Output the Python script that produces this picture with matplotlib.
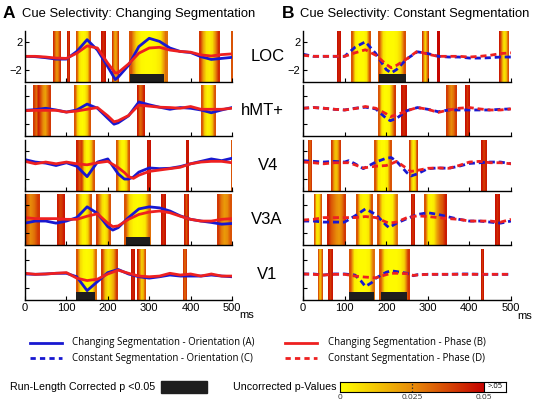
import numpy as np
import matplotlib
matplotlib.use('Agg')
import matplotlib.pyplot as plt
from matplotlib.colors import LinearSegmentedColormap

plt.rcParams['font.family'] = ['Liberation Sans', 'DejaVu Sans']

W, H = 537, 403
regions = ['LOC', 'hMT+', 'V4', 'V3A', 'V1']

# ---------------- Panel A : changing segmentation (solid) ----------------
A_LOC_t = [0, 25, 50, 75, 100, 125, 150, 175, 200, 218, 225, 250, 275, 300, 325, 350, 375, 400, 425, 450, 475, 500]
A_LOC_orient = [0, -0.05, -0.2, -0.4, -0.4, 0.7, 2.4, 0.9, -1.5, -3.35, -3.0, -1.3, 1.4, 2.6, 2.15, 1.2, 0.7, 0.55, -0.05, -0.45, -0.3, -0.15]
A_LOC_phase = [0, 0, -0.1, -0.25, -0.3, 0.45, 1.5, 1.2, -1.0, -2.4, -2.35, -1.1, 0.45, 1.2, 1.3, 0.9, 0.7, 0.6, 0.2, 0.05, 0.25, 0.35]

A_hMT_t = [0, 25, 50, 75, 100, 125, 150, 175, 200, 215, 225, 250, 275, 300, 325, 350, 375, 400, 425, 450, 475, 500]
A_hMT_orient = [0, 0.1, 0.3, 0.05, -0.25, 0.05, 0.9, 0.3, -1.15, -2.0, -1.8, -0.8, 1.2, 0.8, 0.45, 0.15, 0.4, 0.3, 0.05, -0.35, 0.05, 0.4]
A_hMT_phase = [-0.05, 0, 0, 0, -0.25, -0.1, 0.15, 0.4, -0.8, -1.65, -1.5, -0.75, 0.75, 0.6, 0.45, 0.4, 0.3, 0.55, 0.15, 0.15, 0.15, 0.3]

A_V4_t = [0, 25, 50, 75, 100, 125, 150, 175, 200, 225, 240, 250, 262, 275, 300, 325, 350, 375, 400, 425, 450, 475, 500]
A_V4_orient = [0.75, 0.4, 0.25, -0.1, 0.3, -0.2, -1.7, 0.4, 0.85, -1.3, -2.05, -2.05, -1.75, -1.05, -0.45, -0.55, -0.5, -0.25, 0.15, 0.5, 0.85, 0.6, 0.95]
A_V4_phase = [0.5, 0.15, 0.4, 0.15, 0.4, 0.15, 0, 0.3, 0.5, -0.4, -1.1, -1.7, -1.95, -1.5, -0.95, -0.75, -0.55, -0.35, 0.15, 0.4, 0.5, 0.5, 0.3]

A_V3A_t = [0, 25, 50, 75, 100, 125, 150, 175, 200, 212, 225, 250, 275, 300, 325, 350, 375, 400, 425, 450, 475, 500]
A_V3A_orient = [-0.55, -0.25, -0.25, -0.55, -0.25, 0.25, 1.8, 0.85, -1.05, -1.55, -1.2, 0.25, 1.5, 1.8, 1.65, 1.2, 0.5, 0, -0.25, -0.45, -0.7, -0.6]
A_V3A_phase = [0.25, 0.1, 0.1, 0.1, 0, 0, 0.45, 0.8, -0.55, -1.05, -0.95, 0, 0.7, 1.05, 1.2, 0.95, 0.45, 0, -0.25, -0.25, 0, 0.1]

A_V1_t = [0, 25, 50, 75, 100, 125, 150, 175, 200, 225, 250, 275, 300, 325, 350, 375, 400, 425, 450, 475, 500]
A_V1_orient = [0.05, 0, 0.05, 0.15, 0.15, -0.35, -2.35, -1.05, 0.25, 0.7, 0.05, -0.35, -0.55, -0.35, -0.1, -0.25, -0.25, -0.25, -0.1, -0.25, -0.35]
A_V1_phase = [0.15, 0, 0.05, 0.15, 0.25, -0.55, -0.9, -0.7, 0.05, 0.6, 0.15, -0.25, -0.35, -0.25, 0.15, -0.1, 0.05, -0.25, 0.05, -0.25, -0.25]

# ---------------- Panel B : constant segmentation (dashed) ----------------
B_LOC_t = [0, 25, 50, 75, 100, 125, 150, 175, 200, 212, 225, 250, 275, 300, 325, 350, 375, 400, 425, 450, 475, 500]
B_LOC_orient = [0.3, 0, 0, 0, 0, 1.3, 2.1, 0.4, -1.9, -2.4, -1.9, -0.35, 0.65, 0.4, 0, -0.1, -0.1, -0.25, -0.25, -0.2, -0.1, -0.1]
B_LOC_phase = [0.15, 0, 0, 0, 0, 0.5, 0.95, 0.15, -1.15, -1.65, -1.3, -0.35, 0.75, 0.3, 0, 0, 0, -0.1, 0, 0.15, 0.4, 0.5]

B_hMT_t = [0, 25, 50, 75, 100, 125, 150, 175, 200, 210, 225, 250, 275, 300, 325, 350, 375, 400, 425, 450, 475, 500]
B_hMT_orient = [0.3, 0.4, 0.3, 0.15, 0.05, 0.3, 0.45, 0.2, -1.15, -1.5, -1.15, -0.05, 0.4, 0.15, -0.2, 0.05, 0.05, 0.05, 0.05, 0.05, 0.15, 0.2]
B_hMT_phase = [0.3, 0.4, 0.3, 0.15, 0.05, 0.25, 0.55, 0.3, -0.5, -0.9, -0.65, -0.05, 0.4, 0.15, -0.3, 0.05, 0.3, 0.4, 0.2, 0.05, 0.05, 0.2]

B_V4_t = [0, 25, 50, 75, 100, 110, 125, 145, 175, 200, 212, 225, 250, 260, 275, 300, 325, 350, 375, 400, 425, 450, 475, 500]
B_V4_orient = [0.6, 0.5, 0.4, 0.5, 0.4, 0.6, 0.15, -0.55, 0.4, 0.95, 1.05, 0.5, -1.15, -1.6, -1.3, -0.55, -0.45, -0.5, -0.2, 0.2, 0.3, 0.4, 0.4, 0.15]
B_V4_phase = [0.4, 0.3, 0.15, 0.3, 0.3, 0.3, 0, -0.45, -0.2, -0.1, 0.15, 0.5, -0.55, -0.95, -0.8, -0.5, -0.45, -0.5, -0.1, 0.4, 0.5, 0.3, 0.3, 0.15]

B_V3A_t = [0, 25, 50, 75, 100, 125, 150, 175, 200, 207, 225, 250, 275, 300, 325, 350, 375, 400, 425, 450, 475, 500]
B_V3A_orient = [-0.25, -0.25, -0.4, -0.4, -0.4, 0.5, 1.5, 0.7, -0.85, -1.2, -0.55, 0.1, 0.7, 0.95, 0.7, 0.35, 0, -0.25, -0.25, -0.4, -0.55, -0.25]
B_V3A_phase = [-0.1, 0, 0.25, 0.25, 0.25, 0.25, 0.4, 0.25, -0.4, -0.55, -0.4, 0.25, 0.5, 0.4, 0.25, 0.1, 0, -0.25, -0.25, -0.25, -0.4, 0]

B_V1_t = [0, 25, 50, 75, 100, 125, 140, 150, 165, 175, 200, 212, 225, 250, 265, 275, 300, 325, 350, 375, 400, 425, 450, 475, 500]
B_V1_orient = [0.05, 0.05, -0.1, 0.05, 0.05, -0.1, -1.0, -1.75, -1.2, -0.55, 0.3, 0.5, 0.4, 0.15, -0.2, -0.05, 0, 0, 0, 0.05, 0.05, 0, 0, 0, 0]
B_V1_phase = [0.05, 0, -0.1, 0, 0, -0.25, -0.35, -0.4, -0.45, -0.5, -0.05, 0.15, 0.15, 0.1, -0.15, -0.1, 0, 0, 0, 0, 0, 0, 0, 0, 0]

# ---------------- uncorrected p-value bands: (start ms, end ms, p across band) ----------------
A_LOC_bands = [(68, 86, [0.042, 0.03, 0.022, 0.03, 0.042]), (102, 107, [0.045, 0.04, 0.045]),
               (124, 160, [0.035, 0.008, 0.003, 0.002, 0.004, 0.01, 0.035]), (183, 194, [0.047, 0.042, 0.047]),
               (211, 227, [0.04, 0.025, 0.02, 0.025, 0.04]),
               (251, 343, [0.035, 0.01, 0.002, 0.001, 0.001, 0.002, 0.006, 0.03]),
               (420, 470, [0.04, 0.02, 0.006, 0.004, 0.008, 0.025, 0.042]), (497, 500, [0.035, 0.035])]
A_hMT_bands = [(19, 62, [0.04, 0.03, 0.045, 0.035, 0.025, 0.02, 0.03, 0.04]),
               (118, 159, [0.035, 0.01, 0.002, 0.001, 0.003, 0.012, 0.035]),
               (270, 287, [0.045, 0.03, 0.035, 0.045]),
               (426, 460, [0.035, 0.01, 0.003, 0.004, 0.012, 0.035])]
A_V4_bands = [(122, 166, [0.045, 0.035, 0.04, 0.01, 0.002, 0.003, 0.015, 0.035]),
              (219, 251, [0.035, 0.01, 0.002, 0.002, 0.01, 0.035]), (295, 304, [0.047, 0.043, 0.047]),
              (390, 395, [0.046, 0.046]), (498, 500, [0.035, 0.035])]
A_V3A_bands = [(0, 35, [0.035, 0.025, 0.03, 0.04]), (78, 96, [0.045, 0.038, 0.04, 0.046]),
               (122, 159, [0.035, 0.012, 0.003, 0.002, 0.01, 0.035]),
               (172, 208, [0.04, 0.025, 0.008, 0.004, 0.01, 0.035]),
               (239, 303, [0.035, 0.008, 0.002, 0.001, 0.002, 0.005, 0.03]),
               (328, 339, [0.047, 0.042, 0.047]), (383, 394, [0.045, 0.035, 0.045]),
               (464, 500, [0.04, 0.028, 0.022, 0.025, 0.035])]
A_V1_bands = [(122, 172, [0.035, 0.008, 0.002, 0.001, 0.002, 0.006, 0.03]),
              (184, 223, [0.04, 0.015, 0.006, 0.01, 0.02, 0.04]), (257, 265, [0.047, 0.043, 0.047]),
              (270, 291, [0.045, 0.03, 0.012, 0.015, 0.035]), (382, 390, [0.04, 0.03, 0.04])]

B_LOC_bands = [(81, 89, [0.047, 0.043, 0.047]),
               (115, 163, [0.035, 0.005, 0.001, 0.001, 0.001, 0.005, 0.035]),
               (181, 248, [0.035, 0.006, 0.001, 0.001, 0.001, 0.003, 0.01, 0.035]),
               (286, 302, [0.04, 0.02, 0.01, 0.025, 0.04]), (321, 326, [0.049, 0.049]),
               (470, 494, [0.045, 0.03, 0.01, 0.006, 0.015, 0.035])]
B_hMT_bands = [(181, 222, [0.035, 0.005, 0.001, 0.001, 0.003, 0.02, 0.04]), (236, 249, [0.047, 0.042, 0.047]),
               (344, 369, [0.04, 0.03, 0.025, 0.03, 0.04]), (389, 401, [0.047, 0.04, 0.047])]
B_V4_bands = [(11, 19, [0.04, 0.03, 0.04]), (67, 89, [0.04, 0.02, 0.012, 0.02, 0.04]),
              (170, 212, [0.035, 0.005, 0.001, 0.001, 0.005, 0.035]),
              (256, 277, [0.04, 0.012, 0.004, 0.01, 0.04]), (429, 442, [0.047, 0.038, 0.045])]
B_V3A_bands = [(26, 45, [0.035, 0.008, 0.005, 0.012, 0.035]),
               (57, 101, [0.045, 0.035, 0.03, 0.025, 0.022, 0.028, 0.04]),
               (127, 167, [0.035, 0.006, 0.002, 0.002, 0.006, 0.035]),
               (179, 228, [0.035, 0.006, 0.001, 0.001, 0.004, 0.03]), (260, 268, [0.046, 0.04, 0.046]),
               (290, 344, [0.035, 0.005, 0.002, 0.005, 0.02, 0.03, 0.035, 0.045]),
               (462, 474, [0.047, 0.042, 0.047])]
B_V1_bands = [(35, 47, [0.035, 0.012, 0.02, 0.035]), (59, 70, [0.046, 0.04, 0.046]),
              (110, 171, [0.035, 0.004, 0.001, 0.001, 0.001, 0.003, 0.03]),
              (182, 256, [0.035, 0.004, 0.001, 0.001, 0.001, 0.003, 0.01, 0.04]),
              (428, 433, [0.046, 0.04, 0.046])]

# ---------------- run-length corrected p < 0.05 ----------------
A_sig = {'LOC': [(254, 336)], 'hMT+': [], 'V4': [], 'V3A': [(243, 301)], 'V1': [(124, 170)]}
B_sig = {'LOC': [(183, 248)], 'hMT+': [], 'V4': [], 'V3A': [], 'V1': [(111, 170), (187, 250)]}

A_rows = [(A_LOC_t, A_LOC_orient, A_LOC_phase, A_LOC_bands),
          (A_hMT_t, A_hMT_orient, A_hMT_phase, A_hMT_bands),
          (A_V4_t, A_V4_orient, A_V4_phase, A_V4_bands),
          (A_V3A_t, A_V3A_orient, A_V3A_phase, A_V3A_bands),
          (A_V1_t, A_V1_orient, A_V1_phase, A_V1_bands)]
B_rows = [(B_LOC_t, B_LOC_orient, B_LOC_phase, B_LOC_bands),
          (B_hMT_t, B_hMT_orient, B_hMT_phase, B_hMT_bands),
          (B_V4_t, B_V4_orient, B_V4_phase, B_V4_bands),
          (B_V3A_t, B_V3A_orient, B_V3A_phase, B_V3A_bands),
          (B_V1_t, B_V1_orient, B_V1_phase, B_V1_bands)]

BLUE = '#1818d0'
RED = '#ee2020'
YLIM = (-3.7, 3.65)
cmap = LinearSegmentedColormap.from_list('pv', ['#ffff00', '#e88c0a', '#c40000'])

fig = plt.figure(figsize=(W / 100, H / 100), dpi=100)

ov = fig.add_axes([0, 0, 1, 1])
ov.set_xlim(0, W)
ov.set_ylim(H, 0)
ov.axis('off')

tops = [31, 85, 139.5, 194, 249]
row_h = 51
panels = [(25, 207, A_rows, A_sig, '-'), (303, 208, B_rows, B_sig, (0, (2.2, 1.4)))]

for pi, (left, width, rows, sig, ls) in enumerate(panels):
    for ri, (t, ori, pha, bands) in enumerate(rows):
        top = tops[ri]
        ax = fig.add_axes([left / W, 1 - (top + row_h) / H, width / W, row_h / H])
        ax.patch.set_alpha(0)
        for (t0, t1, pv) in bands:
            ax.imshow(np.array(pv)[None, :], extent=(t0, t1, YLIM[0], YLIM[1]), aspect='auto',
                      cmap=cmap, vmin=0, vmax=0.05, interpolation='bilinear', zorder=1)
        for (s0, s1) in sig[regions[ri]]:
            ax.axvspan(s0, s1, 0, 0.155, color='#1e1e1e', lw=0, zorder=2)
        ax.plot(t, ori, color=BLUE, lw=2.0, ls=ls, zorder=3)
        ax.plot(t, pha, color=RED, lw=2.0, ls=ls, zorder=4)
        ax.set_xlim(0, 500)
        ax.set_ylim(*YLIM)
        for s in ['top', 'right']:
            ax.spines[s].set_visible(False)
        for s in ['left', 'bottom']:
            ax.spines[s].set_linewidth(1.0)
            ax.spines[s].set_zorder(5)
        ax.set_xticks(range(0, 501, 100))
        ax.set_yticks([-2, 2])
        ax.set_yticklabels(['\u22122', '2'])
        ax.tick_params(direction='in', length=3, width=0.8, labelsize=8, pad=2)
        if ri != 4:
            ax.tick_params(labelbottom=False)
        if ri != 0:
            ax.tick_params(labelleft=False)

label_x = [268, 262, 268, 267, 267]
for ri, name in enumerate(regions):
    ov.text(label_x[ri], tops[ri] + row_h / 2, name, ha='center', va='center', fontsize=12)

# titles
ov.text(3, 13.5, 'A', fontsize=12.5, fontweight='bold', va='center', ha='left')
ov.text(22, 13.5, 'Cue Selectivity: Changing Segmentation', fontsize=9.4, va='center', ha='left')
ov.text(282, 13.5, 'B', fontsize=12.5, fontweight='bold', va='center', ha='left')
ov.text(300, 13.5, 'Cue Selectivity: Constant Segmentation', fontsize=9.4, va='center', ha='left')

ov.text(239, 315, 'ms', fontsize=8, va='center', ha='left')
ov.text(517, 316, 'ms', fontsize=8, va='center', ha='left')

# legend
leg_font = ['Open Sans', 'DejaVu Sans']
ov.plot([30, 62], [343, 343], color=BLUE, lw=2.0)
ov.plot([30, 62], [358, 358], color=BLUE, lw=2.0, ls=(0, (1.9, 1.5)))
ov.plot([285, 317], [343, 343], color=RED, lw=2.0)
ov.plot([285, 317], [358, 358], color=RED, lw=2.0, ls=(0, (1.9, 1.5)))
ov.text(72, 343, 'Changing Segmentation - Orientation (A)', fontsize=6.95, va='center', family=leg_font)
ov.text(72, 358, 'Constant Segmentation - Orientation (C)', fontsize=6.95, va='center', family=leg_font)
ov.text(328, 343, 'Changing Segmentation - Phase (B)', fontsize=6.95, va='center', family=leg_font)
ov.text(328, 358, 'Constant Segmentation - Phase (D)', fontsize=6.95, va='center', family=leg_font)

ov.text(10, 387, 'Run-Length Corrected p <0.05', fontsize=7.7, va='center')
ov.add_patch(plt.Rectangle((161, 381), 46, 12, color='#1e1e1e'))
ov.text(233, 387, 'Uncorrected p-Values', fontsize=7.7, va='center')

cax = fig.add_axes([340 / W, 1 - 391.5 / H, 166 / W, 9.5 / H])
cax.imshow(np.linspace(0, 0.05, 256)[None, :], extent=(0, 0.05, 0, 1), aspect='auto',
           cmap=cmap, vmin=0, vmax=0.05)
cax.set_xlim(0, 0.0576)
cax.set_ylim(0, 1)
cax.axvline(0.05, color='k', lw=0.8)
cax.axvline(0.025, color='#333333', lw=0.9, ls=(0, (1.2, 1.6)))
cax.text(0.0538, 0.5, '>.05', ha='center', va='center', fontsize=5.5, family=leg_font)
cax.set_xticks([0, 0.025, 0.05])
cax.set_xticklabels(['0', '0.025', '0.05'], family=leg_font)
cax.set_yticks([])
cax.tick_params(length=0, labelsize=6, pad=2, colors='#333333')
for s in cax.spines.values():
    s.set_linewidth(0.8)

fig.savefig('out.png', dpi=100)
